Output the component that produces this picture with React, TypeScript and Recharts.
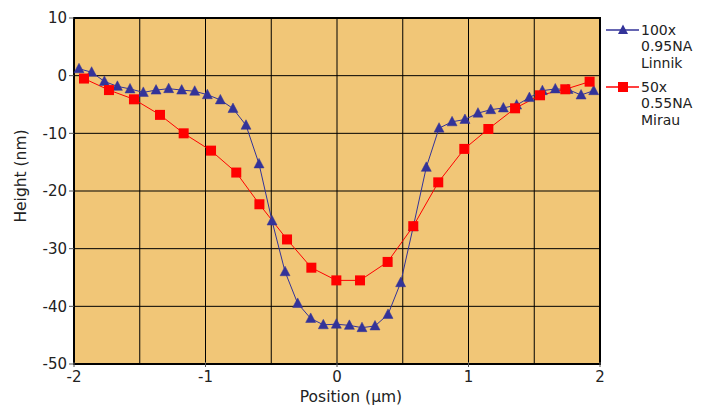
import React from 'react';
import { LineChart, Line, XAxis, YAxis, CartesianGrid, ReferenceArea } from 'recharts';

const linnikX = [-1.962, -1.866, -1.769, -1.670, -1.574, -1.473, -1.376, -1.280, -1.181, -1.082, -0.986, -0.887, -0.791, -0.692, -0.593, -0.494, -0.395, -0.299, -0.200, -0.104, -0.005, 0.094, 0.190, 0.289, 0.388, 0.484, 0.580, 0.679, 0.776, 0.875, 0.973, 1.072, 1.169, 1.265, 1.366, 1.463, 1.562, 1.660, 1.757, 1.856, 1.952];
const linnikY = [1.2, 0.6, -1.0, -1.85, -2.3, -2.9, -2.5, -2.25, -2.5, -2.7, -3.3, -4.2, -5.7, -8.6, -15.3, -25.2, -34.0, -39.5, -42.1, -43.2, -43.1, -43.3, -43.7, -43.4, -41.4, -35.9, -26.2, -15.9, -9.1, -8.0, -7.6, -6.5, -5.9, -5.6, -5.1, -3.8, -2.6, -2.3, -2.4, -3.35, -2.6];

const mirauX = [-1.924, -1.734, -1.544, -1.346, -1.166, -0.958, -0.766, -0.590, -0.380, -0.195, -0.005, 0.175, 0.385, 0.580, 0.770, 0.968, 1.151, 1.354, 1.544, 1.736, 1.921];
const mirauY = [-0.5, -2.5, -4.1, -6.8, -10.0, -13.0, -16.8, -22.3, -28.4, -33.3, -35.5, -35.5, -32.3, -26.1, -18.5, -12.7, -9.25, -5.66, -3.4, -2.36, -1.04];

const gridTicks = [-2, -1.5, -1, -0.5, 0, 0.5, 1, 1.5, 2];
const yTicks = [-50, -40, -30, -20, -10, 0, 10];

const linnikLegend = ['100x', '0.95NA', 'Linnik'];
const mirauLegend = ['50x', '0.55NA', 'Mirau'];

const linnikData = linnikX.map((x, i) => ({ x, y: linnikY[i] }));
const mirauData = mirauX.map((x, i) => ({ x, y: mirauY[i] }));

const BLUE = '#333399';
const RED = '#FF0000';
const FONT = 'DejaVu Sans';
const TEXT = '#222222';

const Tri = (props: any) => {
  const { cx, cy } = props;
  if (cx == null || cy == null) return null;
  return <polygon points={`${cx},${cy - 5.5} ${cx + 5},${cy + 4} ${cx - 5},${cy + 4}`} fill={BLUE} stroke={BLUE} strokeWidth={0.5} />;
};
const Sq = (props: any) => {
  const { cx, cy } = props;
  if (cx == null || cy == null) return null;
  return <rect x={cx - 5} y={cy - 5} width={10} height={10} fill={RED} />;
};

const XTick = (props: any) => {
  const { x, y, payload } = props;
  const v = payload.value;
  if (!Number.isInteger(v)) return null;
  return (
    <g>
      <line x1={x} y1={y - 8} x2={x} y2={y - 3} stroke="#555" />
      <text x={x} y={y + 12} textAnchor="middle" fontFamily={FONT} fontSize={15} fill={TEXT}>{v}</text>
    </g>
  );
};

const YLabel = (props: any) => {
  const vb = props.viewBox || { x: 0, y: 18 };
  const cx = 21;
  const cy = vb.y + 158;
  return (
    <text
      x={cx}
      y={cy}
      transform={`rotate(-90 ${cx} ${cy})`}
      textAnchor="middle"
      dominantBaseline="central"
      fontFamily={FONT}
      fontSize={15.5}
      fill={TEXT}
    >
      Height (nm)
    </text>
  );
};

const LegendBox = () => (
  <svg width={110} height={130} style={{ position: 'absolute', left: 606, top: 20, overflow: 'visible' }}>
    <line x1={0} y1={10} x2={33} y2={10} stroke={BLUE} strokeWidth={1.5} />
    <polygon points="17,4.5 22,14 12,14" fill={BLUE} />
    {linnikLegend.map((t, i) => (
      <text key={t} x={35} y={14.5 + i * 16.5} fontFamily={FONT} fontSize={14} fill={TEXT}>{t}</text>
    ))}
    <line x1={0} y1={67} x2={33} y2={67} stroke={RED} strokeWidth={1.5} />
    <rect x={12} y={62} width={10} height={10} fill={RED} />
    {mirauLegend.map((t, i) => (
      <text key={t} x={35} y={71.5 + i * 16.5} fontFamily={FONT} fontSize={14} fill={TEXT}>{t}</text>
    ))}
  </svg>
);

export default function App() {
  const tickStyle = { fontFamily: FONT, fontSize: 15, fill: TEXT };
  return (
    <div style={{ position: 'absolute', left: 0, top: 0, width: 715, height: 407, background: '#fff' }}>
      <LineChart width={715} height={407} margin={{ top: 18, right: 115, bottom: 0, left: 0 }}>
        <CartesianGrid stroke="#000" strokeWidth={1} fill="#F1C677" fillOpacity={1} />
        <XAxis
          dataKey="x"
          type="number"
          domain={[-2, 2]}
          ticks={gridTicks}
          interval={0}
          height={43}
          tick={<XTick />}
          tickLine={false}
          tickSize={4}
          axisLine={{ stroke: '#000', strokeWidth: 2 }}
          allowDuplicatedCategory={false}
          label={{ value: 'Position (μm)', position: 'insideBottom', offset: 5, dx: 14, style: { fontFamily: FONT, fontSize: 15.5, fill: TEXT } }}
        />
        <YAxis
          type="number"
          domain={[-50, 10]}
          ticks={yTicks}
          interval={0}
          width={74}
          tick={tickStyle}
          tickLine={{ stroke: '#555' }}
          tickSize={5}
          axisLine={{ stroke: '#000', strokeWidth: 2 }}
          label={<YLabel />}
        />
        <ReferenceArea x1={-2} x2={2} y1={-50} y2={10} fill="none" stroke="#000" strokeWidth={2} ifOverflow="visible" />
        <Line data={linnikData} dataKey="y" stroke={BLUE} strokeWidth={1} dot={<Tri />} activeDot={false} isAnimationActive={false} />
        <Line data={mirauData} dataKey="y" stroke={RED} strokeWidth={1} dot={<Sq />} activeDot={false} isAnimationActive={false} />
      </LineChart>
      <LegendBox />
    </div>
  );
}
